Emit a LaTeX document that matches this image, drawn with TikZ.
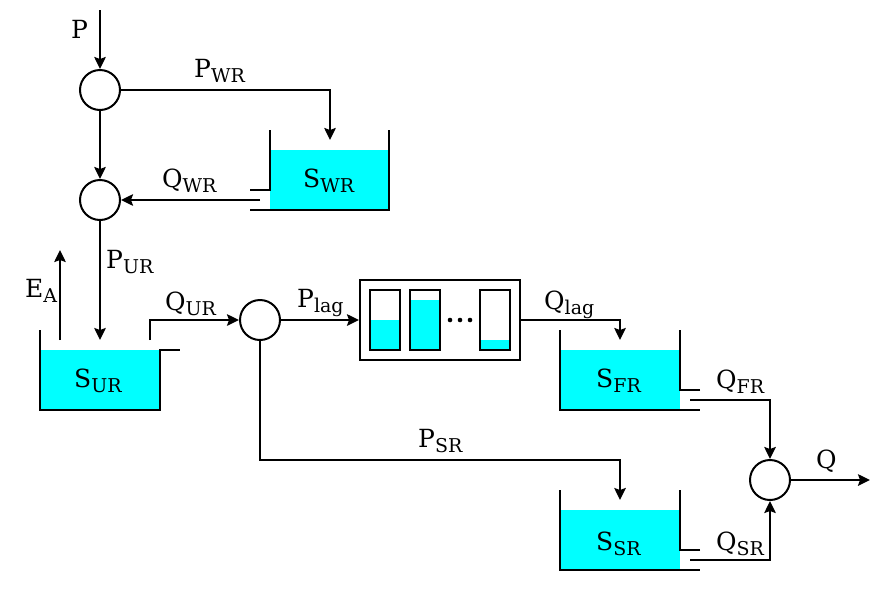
\documentclass[tikz,border=0pt]{standalone}
\usepackage{fontspec}
\setmainfont{DejaVu Serif}
\usetikzlibrary{arrows.meta}
\definecolor{water}{RGB}{0,255,255}
\newcommand{\flux}[2]{#1\raisebox{-5pt}{\fontsize{19}{19}\selectfont #2}}
\tikzset{
  junc/.style={draw, circle, line width=2pt, minimum size=40pt, inner sep=0pt},
  flow/.style={line width=2pt, -{Stealth[length=12pt,width=11.5pt,inset=2pt]}},
  wall/.style={line width=2pt},
  lbl/.style={anchor=base west, inner sep=0pt, font=\fontsize{25}{28}\selectfont},
}
\begin{document}
\begin{tikzpicture}[x=1pt, y=-1pt]
  \useasboundingbox (0,0) rectangle (882,592);
  % junctions
  \node [junc] (j1) at (100,90) {};
  \node [junc] (j2) at (100,200) {};
  \node [junc] (j3) at (260,320) {};
  \node [junc] (j4) at (770,480) {};
  % reservoirs
  \fill [water] (270,150) rectangle (389,210);
  \draw [wall] (270,130) -- (270,190) -- (250,190) (250,210) -- (389,210) -- (389,130);
  \fill [water] (40,350) rectangle (160,410);
  \draw [wall] (40,330) -- (40,410) -- (160,410) -- (160,350) -- (180,350);
  \foreach \y in {330,490}{
    \fill [water] (560,\y+20) rectangle (680,\y+80);
    \draw [wall] (560,\y) -- (560,\y+80) -- (700,\y+80) (700,\y+60) -- (680,\y+60) -- (680,\y);
  }
  % lag box
  \node [draw, wall, minimum width=160pt, minimum height=80pt, inner sep=0pt] (lag) at (440,320) {};
  \foreach \x/\h in {370/320, 410/300, 480/340}{
    \fill [water] (\x,\h) rectangle (\x+30,350);
    \draw [wall] (\x,290) rectangle (\x+30,350);
  }
  \foreach \x in {450,460,470}
    \fill (\x,320) circle (2.3pt);
  % ends of connectors
  \coordinate (pin) at (100,10);
  \coordinate (wrin) at (330,140);
  \coordinate (wrout) at (260,200);
  \coordinate (urin) at (100,340);
  \coordinate (urea) at (60,340);
  \coordinate (eaout) at (60,250);
  \coordinate (urout) at (150,340);
  \coordinate (frin) at (620,340);
  \coordinate (frout) at (690,400);
  \coordinate (bend) at (620,460);
  \coordinate (srin) at (620,500);
  \coordinate (srout) at (690,560);
  \coordinate (qout) at (870,480);
  % connectors
  \draw [flow] (pin) -- (j1);
  \draw [flow] (j1) -| (wrin);
  \draw [flow] (j1) -- (j2);
  \draw [flow] (wrout) -- (j2);
  \draw [flow] (j2) -- (urin);
  \draw [flow] (urea) -- (eaout);
  \draw [flow] (urout) |- (j3);
  \draw [flow] (j3) -- (lag);
  \draw [flow] (lag) -| (frin);
  \draw [flow] (j3) |- (bend) -- (srin);
  \draw [flow] (frout) -| (j4);
  \draw [flow] (srout) -| (j4);
  \draw [flow] (j4) -- (qout);
  % labels
  \node [lbl] (lp) at (71,38) {P};
  \node [lbl] (lpwr) at (194,77) {\flux{P}{WR}};
  \node [lbl] (lqwr) at (162,187) {\flux{Q}{WR}};
  \node [lbl] (lswr) at (303,187) {\flux{S}{WR}};
  \node [lbl] (lpur) at (106,268) {\flux{P}{UR}};
  \node [lbl] (lea) at (25,297) {\flux{E}{A}};
  \node [lbl] (lqur) at (165,310) {\flux{Q}{UR}};
  \node [lbl] (lplag) at (297,307) {\flux{P}{lag}};
  \node [lbl] (lsur) at (74,387) {\flux{S}{UR}};
  \node [lbl] (lqlag) at (544,309) {\flux{Q}{lag}};
  \node [lbl] (lsfr) at (596,387) {\flux{S}{FR}};
  \node [lbl] (lqfr) at (716,388) {\flux{Q}{FR}};
  \node [lbl] (lpsr) at (418,447) {\flux{P}{SR}};
  \node [lbl] (lq) at (816,468) {Q};
  \node [lbl] (lssr) at (596,550) {\flux{S}{SR}};
  \node [lbl] (lqsr) at (716,550) {\flux{Q}{SR}};
\end{tikzpicture}
\end{document}
